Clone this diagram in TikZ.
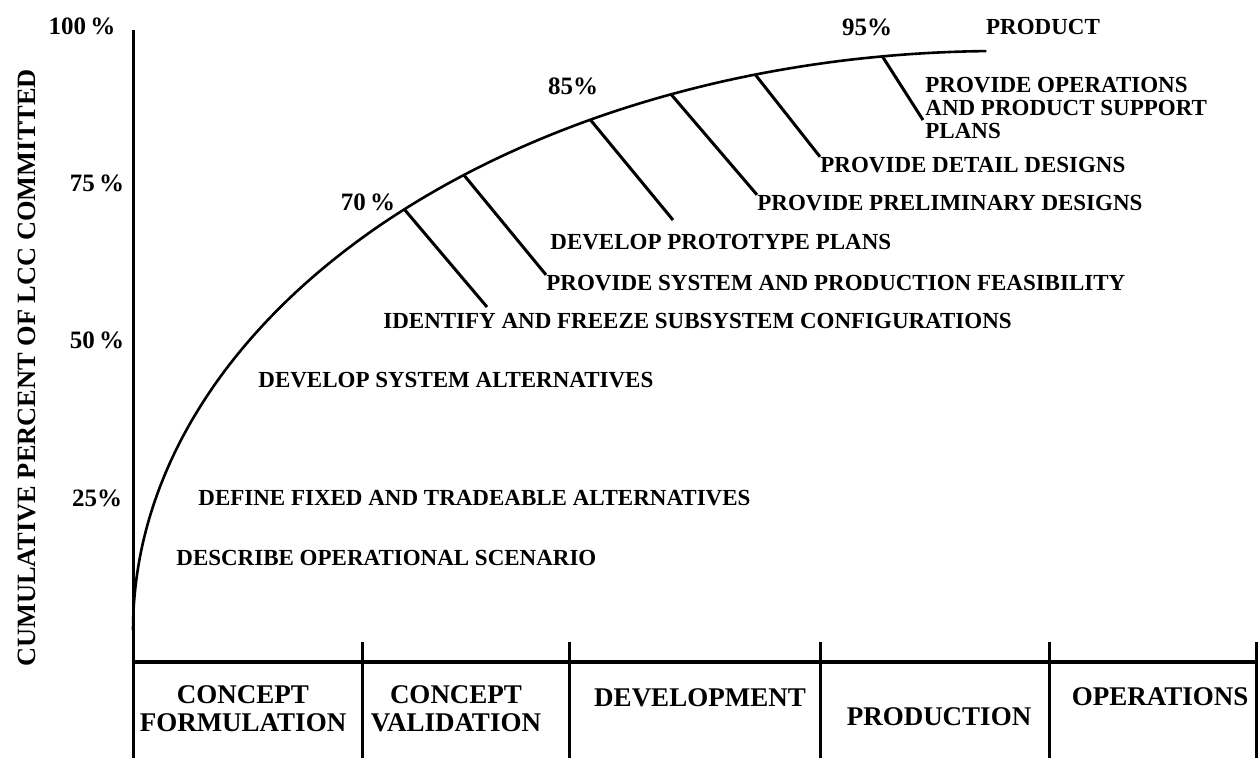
\documentclass[tikz,border=0pt]{standalone}
\usepackage{fontspec}
\setmainfont{Liberation Serif}
\begin{document}
\begin{tikzpicture}[x=0.5pt,y=-0.5pt]
	\tikzstyle{task} = [anchor=west, inner sep=0pt, align=left, font={\bfseries\fontsize{11.5}{11.5}\selectfont}]
	\tikzstyle{pct} = [inner sep=0pt, font={\bfseries\fontsize{12.5}{12.5}\selectfont}]
	\tikzstyle{phase} = [inner sep=0pt, align=center, font={\bfseries\fontsize{13.5}{14}\selectfont}]
	\tikzstyle{lead} = [line width=1.5pt]
	\useasboundingbox (0,0) rectangle (1258,758);
	% axes and phase table
	\coordinate (ytop) at (133,30);
	\coordinate (ybot) at (133,758);
	\coordinate (xleft) at (133,662);
	\coordinate (xright) at (1258,662);
	\draw[line width=1.5pt] (ytop) -- (ybot);
	\draw[line width=1.8pt] (xleft) -- (xright);
	\foreach \x in {362,569,820,1049,1256}
		\draw[line width=1.5pt] (\x,642) -- (\x,758);
	\node[rotate=90, inner sep=0pt, font={\bfseries\fontsize{13.2}{13.2}\selectfont}] (ylab) at (27,368) {CUMULATIVE PERCENT OF LCC COMMITTED};
	\node[pct] (p100) at (82,26) {100\,\%};
	\node[pct] (p75) at (97,183) {75\,\%};
	\node[pct] (p50) at (97,340) {50\,\%};
	\node[pct] (p25) at (97,498) {25\%};
	% commitment curve (quarter ellipse)
	\draw[line width=1.3pt] plot[domain=180:269.1, samples=80, smooth] ({1000+867*cos(\x)},{630+579*sin(\x)});
	\foreach \n/\a in {1/226.6, 2/231.8, 3/241.8, 4/247.7, 5/253.6, 6/262.2}
		\coordinate (c\n) at ({1000+867*cos(\a)},{630+579*sin(\a)});
	\node[pct] (p70) at (368,202) {70\,\%};
	\node[pct] (p85) at (573,86) {85\%};
	\node[pct] (p95) at (867,27) {95\%};
	\node[task, anchor=center] (prod) at (1043,27) {PRODUCT};
	% activities
	\node[task] (t6) at (925,108) {PROVIDE OPERATIONS\\AND PRODUCT SUPPORT\\PLANS};
	\node[task] (t5) at (820,165) {PROVIDE DETAIL DESIGNS};
	\node[task] (t4) at (757,203) {PROVIDE PRELIMINARY DESIGNS};
	\node[task] (t3) at (550,242) {DEVELOP PROTOTYPE PLANS};
	\node[task] (t2) at (546,283) {PROVIDE SYSTEM AND PRODUCTION FEASIBILITY};
	\node[task] (t1) at (383,321) {IDENTIFY AND FREEZE SUBSYSTEM CONFIGURATIONS};
	\node[task] (t0) at (258,380) {DEVELOP SYSTEM ALTERNATIVES};
	\node[task] (tdef) at (198,498) {DEFINE FIXED AND TRADEABLE ALTERNATIVES};
	\node[task] (tscn) at (176,558) {DESCRIBE OPERATIONAL SCENARIO};
	\coordinate (e1) at (487,307);
	\coordinate (e3) at (673,220);
	\coordinate (e6) at (923,120);
	\draw[lead] (c1) -- (e1);
	\draw[lead] (c2) -- (t2.north west);
	\draw[lead] (c3) -- (e3);
	\draw[lead] (c4) -- (t4.north west);
	\draw[lead] (c5) -- (t5.north west);
	\draw[lead] (c6) -- (e6);
	% phases
	\node[phase] (ph1) at (243,709) {CONCEPT\\FORMULATION};
	\node[phase] (ph2) at (456,709) {CONCEPT\\VALIDATION};
	\node[phase] (ph3) at (700,698) {DEVELOPMENT};
	\node[phase] (ph4) at (939,717) {PRODUCTION};
	\node[phase] (ph5) at (1160,697) {OPERATIONS};
\end{tikzpicture}
\end{document}
